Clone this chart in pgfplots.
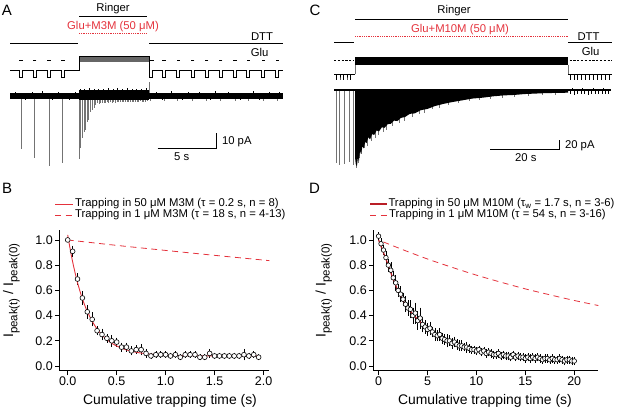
\documentclass[border=0pt]{standalone}
\usepackage{fontspec}
\setmainfont{Liberation Sans}
\usepackage{pgfplots}
\pgfplotsset{compat=1.18}
\usepackage{pgfplotstable}
\definecolor{redA}{RGB}{228,50,60}
\definecolor{redD}{RGB}{185,30,38}
\definecolor{spk}{RGB}{115,115,115}
\newcommand{\fA}{\fontsize{11.3}{13}\selectfont}
\newcommand{\fT}{\fontsize{12.5}{14}\selectfont}
\newcommand{\fL}{\fontsize{13.9}{16}\selectfont}
\newcommand{\fS}{\fontsize{11.5}{12}\selectfont}
\newcommand{\fP}{\fontsize{15}{17}\selectfont}

\pgfplotstableread{
t y e
0.00 1.00 0.00
0.05 0.91 0.03
0.10 0.69 0.03
0.15 0.54 0.04
0.20 0.43 0.04
0.25 0.37 0.04
0.30 0.28 0.02
0.35 0.25 0.03
0.40 0.22 0.02
0.45 0.20 0.03
0.50 0.19 0.02
0.55 0.15 0.02
0.60 0.15 0.02
0.65 0.12 0.02
0.70 0.13 0.02
0.75 0.13 0.03
0.80 0.10 0.02
0.85 0.08 0.01
0.90 0.09 0.01
0.95 0.09 0.01
1.00 0.09 0.01
1.05 0.08 0.01
1.10 0.09 0.01
1.15 0.07 0.01
1.20 0.09 0.01
1.25 0.09 0.01
1.30 0.09 0.01
1.35 0.07 0.01
1.40 0.07 0.01
1.45 0.10 0.02
1.50 0.08 0.01
1.55 0.08 0.01
1.60 0.08 0.01
1.65 0.08 0.01
1.70 0.08 0.01
1.75 0.08 0.01
1.80 0.09 0.03
1.85 0.08 0.01
1.90 0.09 0.01
1.95 0.07 0.01
}\tabB

\pgfplotstableread{
t y e
0.00 1.03 0.02
0.25 0.97 0.03
0.50 0.92 0.03
0.75 0.86 0.04
1.00 0.80 0.04
1.25 0.76 0.05
1.50 0.70 0.04
1.75 0.66 0.05
2.00 0.60 0.04
2.25 0.57 0.05
2.50 0.53 0.04
2.75 0.49 0.05
3.00 0.46 0.05
3.25 0.45 0.06
3.50 0.40 0.05
3.75 0.42 0.07
4.00 0.36 0.06
4.25 0.38 0.07
4.50 0.33 0.05
4.75 0.31 0.04
5.00 0.29 0.04
5.25 0.30 0.04
5.50 0.27 0.03
5.75 0.25 0.04
6.00 0.24 0.03
6.25 0.25 0.04
6.50 0.22 0.03
6.75 0.21 0.03
7.00 0.20 0.04
7.25 0.20 0.03
7.50 0.18 0.03
7.75 0.19 0.03
8.00 0.17 0.03
8.25 0.16 0.03
8.50 0.16 0.03
8.75 0.15 0.02
9.00 0.15 0.03
9.25 0.14 0.02
9.50 0.13 0.02
9.75 0.13 0.02
10.00 0.12 0.02
10.25 0.13 0.02
10.50 0.11 0.02
10.75 0.12 0.02
11.00 0.10 0.02
11.25 0.11 0.02
11.50 0.10 0.02
11.75 0.09 0.02
12.00 0.09 0.02
12.25 0.10 0.02
12.50 0.08 0.02
12.75 0.09 0.02
13.00 0.08 0.02
13.25 0.08 0.02
13.50 0.07 0.02
13.75 0.09 0.02
14.00 0.07 0.02
14.25 0.08 0.02
14.50 0.07 0.02
14.75 0.07 0.02
15.00 0.06 0.02
15.25 0.07 0.02
15.50 0.06 0.02
15.75 0.07 0.02
16.00 0.06 0.02
16.25 0.07 0.02
16.50 0.06 0.02
16.75 0.05 0.02
17.00 0.06 0.02
17.25 0.06 0.02
17.50 0.05 0.02
17.75 0.06 0.02
18.00 0.05 0.02
18.25 0.05 0.02
18.50 0.06 0.02
18.75 0.05 0.02
19.00 0.04 0.02
19.25 0.05 0.02
19.50 0.05 0.02
19.75 0.04 0.02
20.00 0.04 0.02
}\tabD

\pgfplotsset{
  decay/.style={
    scale only axis, axis lines=left,
    axis line style={-, line width=0.7pt},
    tick align=outside, major tick length=4.3pt,
    every tick/.style={black, line width=0.7pt},
    ymin=-0.037, ymax=1.079, ytick={0,0.2,0.4,0.6,0.8,1},
    yticklabel style={/pgf/number format/.cd, fixed, fixed zerofill, precision=1},
    /pgf/number format/assume math mode=true,
    ticklabel style={font=\fT, inner sep=2pt},
    label style={font=\fL},
    xlabel={Cumulative trapping time (s)},
    ylabel={I\raisebox{-0.3em}{\fS peak(t)} / I\raisebox{-0.3em}{\fS peak(0)}},
  },
  trace/.style={scale only axis, axis lines=none, clip=false},
}

\begin{document}
\begin{tikzpicture}
\useasboundingbox (0,0) rectangle (617pt,409pt);

% ---------------- Panel B ----------------
\begin{axis}[decay, at={(59.3pt,38.3pt)}, anchor=south west,
  width=210pt, height=140.7pt, xmin=-0.086, xmax=2.059,
  xtick={0,0.5,1,1.5,2},
  xticklabel style={/pgf/number format/.cd, fixed, fixed zerofill, precision=1},
  xlabel style={at={(axis description cs:0.527,-0.215)}, anchor=center},
  ylabel style={at={(axis description cs:-0.228,0.568)}, anchor=center}]
\addplot[redA, line width=0.8pt, dash pattern=on 6pt off 4.5pt, smooth]
  coordinates {(0,1.0)(0.5,0.957)(1.0,0.917)(1.5,0.878)(2.059,0.836)};
\addplot[only marks, mark=*, mark size=2.4pt,
  mark options={fill=white, draw=black, line width=0.6pt},
  error bars/.cd, y dir=both, y explicit,
  error bar style={black, line width=0.6pt},
  error mark options={black, mark size=2pt, line width=0.6pt}]
  table[x=t, y=y, y error=e]{\tabB};
\addplot[redA, line width=0.9pt, smooth] coordinates {
  (0,1.04)(0.025,0.927)(0.05,0.828)(0.075,0.74)(0.1,0.662)(0.125,0.594)
  (0.15,0.533)(0.175,0.48)(0.2,0.433)(0.25,0.355)(0.3,0.294)(0.35,0.247)
  (0.4,0.210)(0.45,0.181)(0.5,0.159)(0.6,0.128)(0.7,0.109)(0.8,0.098)
  (0.9,0.091)(1.0,0.086)(1.2,0.082)(1.4,0.081)(1.6,0.080)(1.8,0.080)(1.95,0.080)};
\end{axis}

% ---------------- Panel D ----------------
\begin{axis}[decay, at={(373.3pt,38.3pt)}, anchor=south west,
  width=225pt, height=140.7pt, xmin=-0.54, xmax=22.46,
  xtick={0,5,10,15,20},
  xlabel style={at={(axis description cs:0.496,-0.215)}, anchor=center},
  ylabel style={at={(axis description cs:-0.220,0.568)}, anchor=center}]
\addplot[redA, line width=0.8pt, dash pattern=on 6pt off 4.5pt, smooth]
  coordinates {(0.5,0.984)(2.5,0.922)(5,0.849)(7.5,0.783)(10,0.721)(12.5,0.665)
  (15,0.612)(17.5,0.565)(20,0.520)(22.46,0.480)};
\addplot[only marks, mark=*, mark size=2.3pt,
  mark options={fill=white, draw=black, line width=0.6pt},
  error bars/.cd, y dir=both, y explicit,
  error bar style={black, line width=0.5pt},
  error mark options={black, mark size=1.6pt, line width=0.5pt}]
  table[x=t, y=y, y error=e]{\tabD};
\addplot[redD, line width=1.2pt, smooth] coordinates {
  (0,1.0)(0.25,0.95)(0.5,0.90)(0.75,0.85)(1,0.795)(1.25,0.74)(1.5,0.69)
  (1.75,0.64)(2,0.595)(2.5,0.52)(3,0.46)(3.5,0.41)(4,0.37)(4.5,0.33)(5,0.30)
  (5.5,0.27)(6,0.245)(6.5,0.225)(7,0.205)(7.5,0.185)(8,0.17)(9,0.145)(10,0.12)
  (11,0.105)(12,0.092)(13,0.082)(14,0.075)(15,0.068)(16,0.062)(17,0.056)
  (18,0.051)(19,0.045)(20,0.04)};
\end{axis}

% ---------------- Trace A (s, pA) ----------------
\begin{axis}[trace, at={(10pt,242.2pt)}, anchor=south west,
  width=273pt, height=80.1pt, xmin=0, xmax=23.1, ymin=-46, ymax=6]
\addplot[ycomb, spk, line width=0.9pt, mark=none] coordinates {
  (0.93,-34.4)(2.09,-40)(3.30,-45.5)(4.48,-43.3)
  (5.84,-40.7)(5.98,-34)(6.12,-27.5)(6.26,-23.2)(6.40,-22)(6.54,-16.7)
  (6.68,-15.6)(6.82,-10.2)(6.96,-9.1)(7.11,-8)(7.25,-5.8)(7.39,-4.8)
  (7.53,-5.2)(7.67,-4.6)(7.81,-4.9)(7.95,-4.3)(8.09,-4.7)(8.23,-4.2)
  (8.37,-4.5)(8.51,-4.0)(8.65,-4.4)(8.79,-3.9)(8.93,-4.3)(9.07,-4.0)
  (9.21,-4.2)(9.35,-3.8)(9.49,-4.1)(9.63,-3.9)(9.77,-4.2)(9.91,-3.8)
  (10.05,-4.0)(10.19,-3.7)(10.33,-4.1)(10.47,-3.8)(10.61,-3.9)(10.75,-3.7)
  (10.89,-4.0)(11.03,-3.6)(11.17,-3.9)(11.31,-3.7)(11.45,-3.8)(11.59,-3.6)
  (11.76,9)(11.9,-3.3)(13.03,-3.4)(14.2,-3.1)(15.46,-3.4)(16.64,-3.2)
  (17.83,-3.5)(19.04,-3.1)(20.16,-3.4)(21.43,-3.3)(22.62,-3.0)};
\addplot[fill=black, draw=none] coordinates {(0,1.8)(23.1,1.8)(23.1,-1.8)(0,-1.8)} --cycle;
\addplot[fill=black, draw=none] coordinates {(5.84,3.6)(11.76,3.6)(11.76,-2.8)(5.84,-2.8)} --cycle;
\addplot[ycomb, black, line width=0.4pt, mark=none] coordinates {
  (5.9,4.6)(6.3,4.2)(6.7,5)(7.1,4.4)(7.5,4.8)(7.9,4.3)(8.3,5.1)(8.7,4.5)
  (9.1,4.9)(9.5,4.2)(9.9,5)(10.3,4.4)(10.7,4.8)(11.1,4.3)(11.5,5)};
\addplot[ycomb, black, line width=0.4pt, mark=none] coordinates {
  (0.4,2.8)(1.3,-2.9)(1.9,2.6)(2.7,2.9)(3.6,-2.8)(4.1,2.7)(5.0,-2.9)(5.5,2.8)
  (12.4,2.7)(12.9,-2.8)(13.6,2.9)(14.6,-2.7)(15.1,2.8)(16.0,2.6)(16.9,-2.9)
  (17.4,3.0)(18.5,2.7)(19.5,-2.8)(20.6,2.9)(21.1,-2.7)(21.9,2.8)(22.8,2.6)};
\end{axis}

% ---------------- Trace C (s, pA) ----------------
\begin{axis}[trace, at={(334pt,242.5pt)}, anchor=south west,
  width=277.2pt, height=81pt, xmin=0, xmax=80, ymin=-170, ymax=10]
\addplot[ycomb, spk, line width=0.9pt, mark=none] coordinates {
  (0.78,-162)(1.64,-167)(2.97,-164)(4.33,-160)(5.5,-166)};
\addplot[ycomb, spk, line width=0.7pt, mark=none] coordinates {
  (6.45,-174)(7.0,-162)(7.35,-152)(8.0,-142)(8.9,-130)(9.7,-124)(10.8,-114)
  (11.9,-106)(12.8,-101)(14.2,-93)(15.2,-88)(16.8,-81)(18.8,-73)(20.2,-69)
  (22.5,-61)(24.5,-54)(26,-51)(28.5,-43)(30.5,-39)(33,-34)(36,-29)(39,-25)
  (42,-22)(45,-19)(48.5,-17)(52,-15)(56,-13)(60,-11)(64,-11)};
\addplot[fill=black, draw=none] coordinates {
  (6.06,0)(6.06,-150)(6.3,-165)(6.6,-170)(6.9,-150)(7.2,-158)(7.5,-135)
  (7.8,-142)(8.2,-125)(8.6,-130)(9.0,-115)(9.4,-118)(9.9,-105)(10.4,-110)
  (11,-98)(11.6,-100)(12.3,-90)(13,-92)(13.8,-83)(14.6,-84)(15.5,-76)
  (16.4,-75)(17.3,-68)(18.3,-69)(19.3,-62)(20.5,-60)(21.9,-53)(23.3,-52)
  (25,-45)(27,-42)(29,-36)(31.5,-31)(34,-27)(37,-23)(40,-19)(43,-17)
  (46,-14)(49,-12)(52,-11)(55,-9)(58,-8)(61,-7)(64,-6.5)(67.6,-6)(67.6,0)} --cycle;
\addplot[fill=black, draw=none] coordinates {(0,2.7)(80,2.7)(80,-2.7)(0,-2.7)} --cycle;
\addplot[ycomb, black, line width=0.6pt, mark=none] coordinates {
  (68.3,-9)(69.3,-11)(70.3,-8)(71.3,-10)(72.3,-9)(73.3,-11)(74.3,-8)(75.3,-10)
  (76.3,-9)(77.3,-10)(78.3,-8)(79.3,-9)(68.8,4)(71.8,3.5)(74.8,4)(77.8,3.6)};
\end{axis}

% ---------------- Annotations (pixel frame) ----------------
\begin{axis}[trace, at={(0pt,0pt)}, anchor=south west,
  width=617pt, height=409pt, xmin=0, xmax=617, ymin=0, ymax=409, y dir=reverse]
% panel letters
\node[font=\fP] at (axis cs:7,10) {A};
\node[font=\fP] at (axis cs:7.2,188) {B};
\node[font=\fP] at (axis cs:315,10.5) {C};
\node[font=\fP] at (axis cs:314.5,188.5) {D};
% ---- A ----
\addplot[black, line width=0.9pt] coordinates {(79,16.7)(147,16.7)};
\node[font=\fA] at (axis cs:113,8.5) {Ringer};
\node[font=\fA, text=redA] at (axis cs:113,26.7) {Glu+M3M (50 μM)};
\addplot[redA, line width=0.9pt, dash pattern=on 0.9pt off 0.9pt] coordinates {(79,33.3)(147,33.3)};
\addplot[black, line width=0.9pt] coordinates {(10,43.3)(78.3,43.3)};
\addplot[black, line width=0.9pt] coordinates {(149,43.3)(282.7,43.3)};
\node[font=\fA, anchor=east] at (axis cs:276.5,36.7) {DTT};
\node[font=\fA, anchor=east] at (axis cs:272,52.3) {Glu};
\addplot[only marks, mark=-, mark size=1.6pt, mark options={line width=1pt}] coordinates {
  (21,60.7)(34.7,60.7)(49,60.7)(63,60.7)(152,60.7)(164,60.7)(178.3,60.7)
  (192.7,60.7)(206.7,60.7)(220.7,60.7)(235,60.7)(248.3,60.7)(263.3,60.7)(277.3,60.7)};
\addplot[fill=black!60, draw=none] coordinates {(79,56.7)(149,56.7)(149,62.5)(79,62.5)} --cycle;
\addplot[black, line width=0.7pt] coordinates {
  (10,70.7)(19.5,70.7)(19.5,77.3)(22.5,77.3)(22.5,70.7)(33.2,70.7)(33.2,77.3)
  (36.2,77.3)(36.2,70.7)(47.5,70.7)(47.5,77.3)(50.5,77.3)(50.5,70.7)(61.5,70.7)
  (61.5,77.3)(64.5,77.3)(64.5,70.7)(79,70.7)(79,56.7)(149,56.7)(149,77.3)
  (152.2,77.3)(152.2,70.7)(162.5,70.7)(162.5,77.3)(165.5,77.3)(165.5,70.7)
  (176.8,70.7)(176.8,77.3)(179.8,77.3)(179.8,70.7)(191.2,70.7)(191.2,77.3)
  (194.2,77.3)(194.2,70.7)(205.2,70.7)(205.2,77.3)(208.2,77.3)(208.2,70.7)
  (219.2,70.7)(219.2,77.3)(222.2,77.3)(222.2,70.7)(233.5,70.7)(233.5,77.3)
  (236.5,77.3)(236.5,70.7)(246.8,70.7)(246.8,77.3)(249.8,77.3)(249.8,70.7)
  (261.8,70.7)(261.8,77.3)(264.8,77.3)(264.8,70.7)(275.8,70.7)(275.8,77.3)
  (278.8,77.3)(278.8,70.7)(283,70.7)};
\addplot[black, line width=0.9pt] coordinates {(157.7,148.7)(216.7,148.7)(216.7,133.3)};
\node[font=\fA, anchor=west] at (axis cs:218.5,141.7) {10 pA};
\node[font=\fA] at (axis cs:181.7,157) {5 s};
% ---- C ----
\addplot[black, line width=0.9pt] coordinates {(355,19.3)(568.3,19.3)};
\node[font=\fA] at (axis cs:454,10.5) {Ringer};
\node[font=\fA, text=redA] at (axis cs:460,30) {Glu+M10M (50 μM)};
\addplot[redA, line width=0.9pt, dash pattern=on 0.9pt off 0.9pt] coordinates {(355,36)(568.3,36)};
\addplot[black, line width=0.9pt] coordinates {(334,42.3)(354,42.3)};
\addplot[black, line width=0.9pt] coordinates {(568.3,42.3)(611.7,42.3)};
\node[font=\fA, anchor=east] at (axis cs:603,37) {DTT};
\node[font=\fA, anchor=east] at (axis cs:603,51.7) {Glu};
\addplot[black, line width=0.9pt, dash pattern=on 2.2pt off 1.6pt] coordinates {(334,60.3)(354,60.3)};
\addplot[black, line width=0.9pt, dash pattern=on 2.2pt off 1.6pt] coordinates {(569.5,60.3)(611.7,60.3)};
\addplot[fill=black, draw=none] coordinates {(355,56.7)(568.3,56.7)(568.3,65)(355,65)} --cycle;
\addplot[black, line width=0.7pt] coordinates {
  (334,74.3)(336.5,74.3)(336.5,80)(336.5,74.3)(340,74.3)(340,80)(340,74.3)
  (343.5,74.3)(343.5,80)(343.5,74.3)(347,74.3)(347,80)(347,74.3)(350.5,74.3)
  (350.5,80)(350.5,74.3)(355,74.3)};
\addplot[spk, line width=0.7pt] coordinates {(355,74.3)(355,65)};
\addplot[spk, line width=0.7pt] coordinates {(568.3,65)(568.3,74.3)};
\addplot[black, line width=0.7pt] coordinates {
  (568.3,74.3)(570,74.3)(570,80)(570,74.3)(573.9,74.3)(573.9,80)(573.9,74.3)
  (577.8,74.3)(577.8,80)(577.8,74.3)(581.7,74.3)(581.7,80)(581.7,74.3)
  (585.6,74.3)(585.6,80)(585.6,74.3)(589.5,74.3)(589.5,80)(589.5,74.3)
  (593.4,74.3)(593.4,80)(593.4,74.3)(597.3,74.3)(597.3,80)(597.3,74.3)
  (601.2,74.3)(601.2,80)(601.2,74.3)(605.1,74.3)(605.1,80)(605.1,74.3)
  (609,74.3)(609,80)(609,74.3)(611.7,74.3)};
\addplot[black, line width=0.9pt] coordinates {(490,149)(559.3,149)(559.3,140)};
\node[font=\fA, anchor=west] at (axis cs:561.5,145.3) {20 pA};
\node[font=\fA] at (axis cs:525.8,157.5) {20 s};
% ---- legends ----
\addplot[redA, line width=0.8pt] coordinates {(55,204)(73.3,204)};
\node[font=\fA, anchor=west, inner sep=0pt] at (axis cs:75,204) {Trapping in 50 μM M3M (τ = 0.2 s, n = 8)};
\addplot[redA, line width=0.8pt, dash pattern=on 6pt off 4.5pt] coordinates {(55,215)(73.3,215)};
\node[font=\fA, anchor=west, inner sep=0pt] at (axis cs:75,215) {Trapping in 1 μM M3M (τ = 18 s, n = 4-13)};
\addplot[redD, line width=1.2pt] coordinates {(370,204)(386.7,204)};
\node[font=\fA, anchor=west, inner sep=0pt] at (axis cs:388.3,204) {Trapping in 50 μM M10M (τ\textsubscript{w} = 1.7 s, n = 3-6)};
\addplot[redA, line width=0.8pt, dash pattern=on 6pt off 4.5pt] coordinates {(370,215)(386.7,215)};
\node[font=\fA, anchor=west, inner sep=0pt] at (axis cs:389,215) {Trapping in 1 μM M10M (τ = 54 s, n = 3-16)};
\end{axis}
\end{tikzpicture}
\end{document}
